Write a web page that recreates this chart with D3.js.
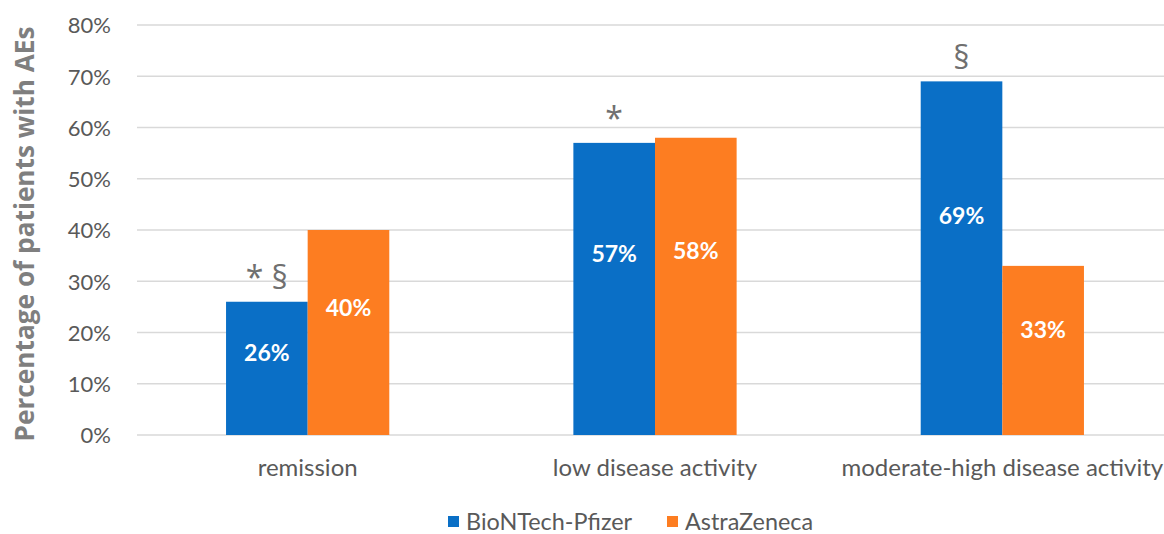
<!DOCTYPE html>
<html>
<head>
<meta charset="utf-8">
<script src="https://cdn.jsdelivr.net/npm/d3@7"></script>
<style>
  body { margin: 0; background: #fff; }
  svg { display: block; font-family: Lato, "Open Sans", sans-serif; }
</style>
</head>
<body>
<svg id="chart" width="1164" height="534"></svg>
<script>
// Share of patients reporting adverse events, by disease activity and vaccine
const categories = ["remission", "low disease activity", "moderate-high disease activity"];
const seriesNames = ["BioNTech-Pfizer", "AstraZeneca"];
const pfizer = [26, 57, 69];
const astra = [40, 58, 33];
const significance = ["* §", "*", "§"];   // marks placed above the BioNTech-Pfizer bars
const yTicks = [0, 10, 20, 30, 40, 50, 60, 70, 80];
const colors = ["#0a6fc6", "#fd7d21"];

const svg = d3.select("#chart");
const W = 1164, H = 534;
const plot = { left: 134, right: 1176, top: 25, bottom: 435 };

const x0 = d3.scaleBand().domain(categories).range([plot.left, plot.right]).paddingInner(0.53).paddingOuter(0.265);
const x1 = d3.scaleBand().domain(seriesNames).range([0, x0.bandwidth()]);
const y = d3.scaleLinear().domain([0, 80]).range([plot.bottom, plot.top]);

// horizontal gridlines
svg.append("g").selectAll("line").data(yTicks).join("line")
  .attr("x1", 137).attr("x2", W)
  .attr("y1", d => y(d)).attr("y2", d => y(d))
  .attr("stroke", "#d9d9d9").attr("stroke-width", 1.6);

// y tick labels
const yAxis = d3.axisLeft(y).tickValues(yTicks).tickFormat(d => d + "%").tickSize(0).tickPadding(0);
const ya = svg.append("g").attr("transform", "translate(111,0)").call(yAxis);
ya.select(".domain").remove();
ya.selectAll("text").attr("font-size", 22).attr("fill", "#595959")
  .attr("font-family", "Lato, sans-serif").attr("dy", "0.36em");

// y axis title
svg.append("text")
  .attr("transform", `translate(34,${(plot.top + plot.bottom) / 2 + 4}) rotate(-90)`)
  .attr("text-anchor", "middle")
  .attr("font-size", 26).attr("font-weight", 700).attr("fill", "#7f7f7f")
  .attr("font-family", "'Open Sans', sans-serif")
  .attr("textLength", 415).attr("lengthAdjust", "spacingAndGlyphs")
  .text("Percentage of patients with AEs");

// bars
const rows = categories.map((c, i) => ({ cat: c, vals: [pfizer[i], astra[i]] }));
const groups = svg.append("g").selectAll("g").data(rows).join("g")
  .attr("transform", d => `translate(${x0(d.cat)},0)`);

groups.selectAll("rect").data(d => d.vals.map((v, j) => ({ s: seriesNames[j], v, j })))
  .join("rect")
  .attr("x", d => x1(d.s)).attr("width", x1.bandwidth())
  .attr("y", d => y(d.v)).attr("height", d => y(0) - y(d.v))
  .attr("fill", d => colors[d.j]);

// value labels inside bars
groups.selectAll("text.val").data(d => d.vals.map((v, j) => ({ s: seriesNames[j], v, j })))
  .join("text").attr("class", "val")
  .attr("x", d => x1(d.s) + x1.bandwidth() / 2)
  .attr("y", d => y(d.v) + (y(0) - y(d.v)) * 0.38)
  .attr("dy", "0.36em")
  .attr("text-anchor", "middle")
  .attr("font-size", 23).attr("font-weight", 700).attr("fill", "#fff")
  .text(d => d.v + "%");

// significance marks
groups.append("text")
  .attr("x", d => x1(seriesNames[0]) + x1.bandwidth() / 2)
  .attr("y", d => y(d.vals[0]) - 24)
  .attr("dy", "0.35em")
  .attr("text-anchor", "middle")
  .attr("font-family", "'Open Sans', sans-serif")
  .attr("font-size", 32).attr("fill", "#707070")
  .text((d, i) => significance[i]);

// category labels
svg.append("g").selectAll("text").data(categories).join("text")
  .attr("x", d => x0(d) + x0.bandwidth() / 2)
  .attr("y", 467).attr("dy", "0.36em")
  .attr("text-anchor", "middle")
  .attr("font-size", 24).attr("fill", "#595959")
  .text(d => d);

// legend
const legend = svg.append("g").attr("transform", "translate(448,522)");
const legendX = [0, 219];
seriesNames.forEach((s, i) => {
  const g = legend.append("g").attr("transform", `translate(${legendX[i]},0)`);
  g.append("rect").attr("x", 0).attr("y", -6).attr("width", 11).attr("height", 11).attr("fill", colors[i]);
  g.append("text").attr("x", 18).attr("y", 0).attr("dy", "0.36em")
    .attr("font-size", 23.4).attr("fill", "#595959").text(s);
});
</script>
</body>
</html>
